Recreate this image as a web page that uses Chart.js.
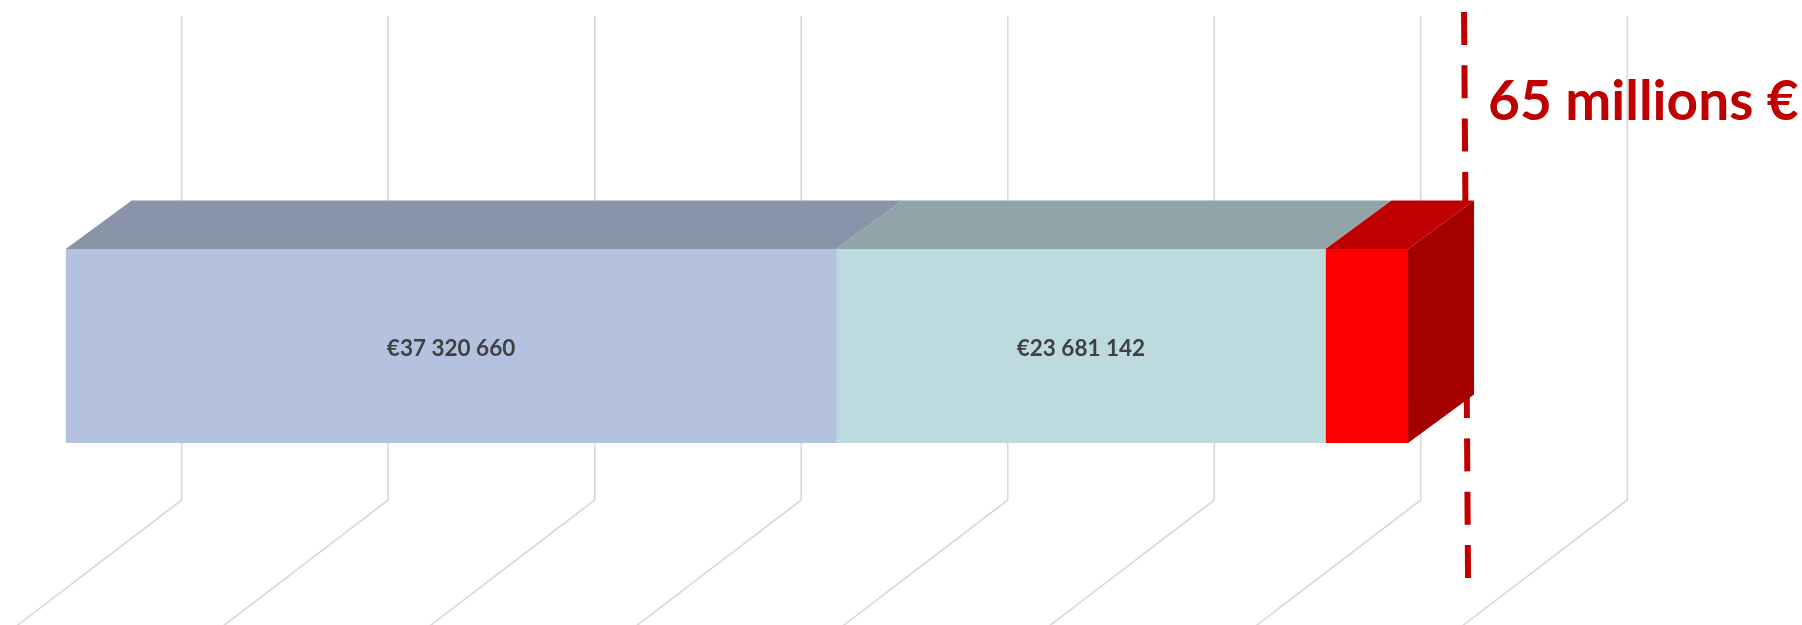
<!DOCTYPE html>
<html>
<head>
<meta charset="utf-8">
<script src="https://cdn.jsdelivr.net/npm/chart.js@4/dist/chart.umd.min.js"></script>
<style>
  html, body { margin: 0; padding: 0; background: #fff; }
  canvas { display: block; }
</style>
</head>
<body>
<canvas id="budget" width="1802" height="625"></canvas>
<script>
// data
const categories = ['Budget'];
const seriesNames = ['Engagé', 'Programmé', 'Reste'];
const seriesValues = [37320660, 23681142, 3998198];
const showValue = [true, true, false];
const gridValues = [0, 10e6, 20e6, 30e6, 40e6, 50e6, 60e6, 70e6];
const targetValue = 65e6;
const targetLabel = '65 millions €';

// looks
const frontColours = ['#B4C2E0', '#BDDADF', '#FF0000'];
const topColours = ['#8A94A8', '#91A4A8', '#C00000'];
const sideColour = '#A50000';
const depth = { dx: 66, dy: -48.5 };      // bar front -> bar back
const wall = { dx: 116, top: 16, bottom: 500 }; // back wall shift, height
const floorSlope = 1.31;                 // floor lines: dx per dy

function euro(v) {
  return '€' + String(v).replace(/\B(?=(\d{3})+(?!\d))/g, ' ');
}

const gridPlugin = {
  id: 'grid3d',
  beforeDatasetsDraw(chart) {
    const ctx = chart.ctx;
    const xs = chart.scales.x;
    ctx.save();
    ctx.strokeStyle = '#D9D9D9';
    ctx.lineWidth = 1.6;
    gridValues.forEach(v => {
      const bx = xs.getPixelForValue(v) + wall.dx;
      const drop = chart.height - wall.bottom + 20;
      ctx.beginPath();
      ctx.moveTo(bx, wall.top);
      ctx.lineTo(bx, wall.bottom);
      ctx.lineTo(bx - drop * floorSlope, wall.bottom + drop);
      ctx.stroke();
    });

    // target line, sits behind the bar
    const tx = xs.getPixelForValue(targetValue);
    ctx.strokeStyle = '#C00000';
    ctx.lineWidth = 6;
    ctx.setLineDash([33, 20.3]);
    ctx.beginPath();
    ctx.moveTo(tx + 56, 12);
    ctx.lineTo(tx + 60, 578);
    ctx.stroke();
    ctx.restore();
  }
};

const facesPlugin = {
  id: 'faces3d',
  afterDatasetsDraw(chart) {
    const ctx = chart.ctx;
    const n = chart.data.datasets.length;
    ctx.save();
    chart.data.datasets.forEach((ds, i) => {
      const bar = chart.getDatasetMeta(i).data[0];
      const p = bar.getProps(['x', 'base', 'y', 'height'], true);
      const top = p.y - p.height / 2;
      const bottom = p.y + p.height / 2;

      ctx.fillStyle = topColours[i];
      ctx.beginPath();
      ctx.moveTo(p.base, top);
      ctx.lineTo(p.base + depth.dx, top + depth.dy);
      ctx.lineTo(p.x + depth.dx, top + depth.dy);
      ctx.lineTo(p.x, top);
      ctx.closePath();
      ctx.fill();

      if (i === n - 1) {
        ctx.fillStyle = sideColour;
        ctx.beginPath();
        ctx.moveTo(p.x, top);
        ctx.lineTo(p.x + depth.dx, top + depth.dy);
        ctx.lineTo(p.x + depth.dx, bottom + depth.dy);
        ctx.lineTo(p.x, bottom);
        ctx.closePath();
        ctx.fill();
      }

      if (showValue[i]) {
        ctx.fillStyle = '#404040';
        ctx.font = 'bold 22.5px Lato';
        ctx.textAlign = 'center';
        ctx.textBaseline = 'middle';
        ctx.fillText(euro(ds.data[0]), (p.x + p.base) / 2, p.y + 3);
      }
    });
    ctx.restore();
  },
  afterDraw(chart) {
    const ctx = chart.ctx;
    const tx = chart.scales.x.getPixelForValue(targetValue);
    ctx.save();
    ctx.fillStyle = '#C00000';
    ctx.font = 'bold 55px Lato';
    ctx.textAlign = 'left';
    ctx.textBaseline = 'alphabetic';
    ctx.fillText(targetLabel, tx + 80, 120);
    ctx.restore();
  }
};

new Chart(document.getElementById('budget'), {
  type: 'bar',
  data: {
    labels: categories,
    datasets: seriesNames.map((name, i) => ({
      label: name,
      data: [seriesValues[i]],
      backgroundColor: frontColours[i],
      borderWidth: 0,
      barPercentage: 1,
      categoryPercentage: 1,
    })),
  },
  options: {
    indexAxis: 'y',
    responsive: false,
    animation: false,
    layout: {
      padding: { left: 65.7, right: 290.7, top: 249, bottom: 182 },
    },
    scales: {
      x: { type: 'linear', min: 0, max: 70e6, stacked: true, display: false },
      y: { stacked: true, display: false },
    },
    plugins: {
      legend: { display: false },
      tooltip: { enabled: false },
    },
  },
  plugins: [gridPlugin, facesPlugin],
});
</script>
</body>
</html>
